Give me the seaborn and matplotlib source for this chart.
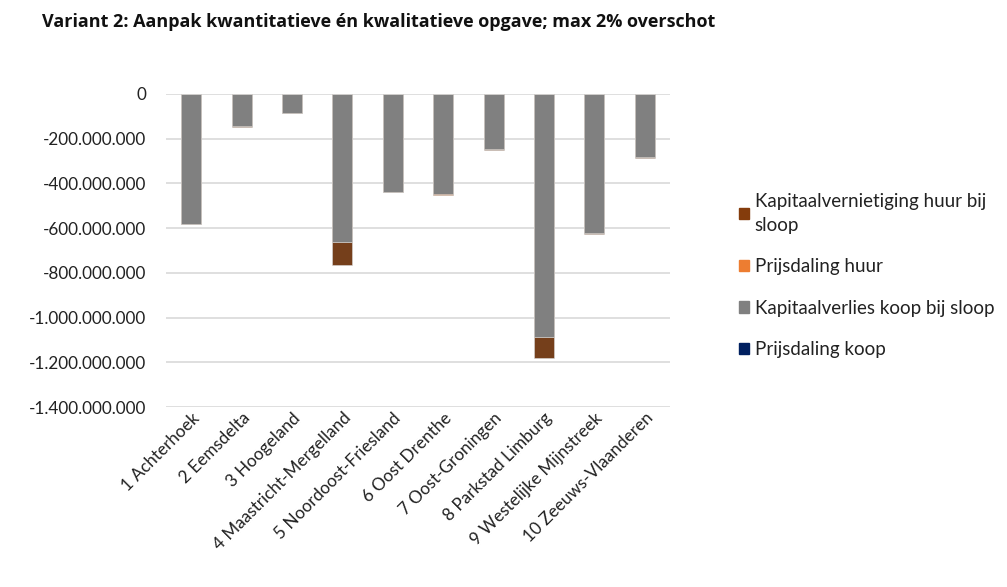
import numpy as np
import pandas as pd
import matplotlib
matplotlib.use("Agg")
import matplotlib.pyplot as plt
import matplotlib.patches as mpatches
from matplotlib.ticker import FuncFormatter
import seaborn as sns

# ── Data (euro, negative = loss) ─────────────────────────────────────────────
regions = [
    "1 Achterhoek", "2 Eemsdelta", "3 Hoogeland", "4 Maastricht-Mergelland",
    "5 Noordoost-Friesland", "6 Oost Drenthe", "7 Oost-Groningen",
    "8 Parkstad Limburg", "9 Westelijke Mijnstreek", "10 Zeeuws-Vlaanderen",
]
prijsdaling_koop = [0, 0, 0, 0, 0, 0, 0, 0, 0, 0]
kapitaalverlies_koop = [-580e6, -143e6, -83e6, -660e6, -437e6,
                        -449e6, -244e6, -1087e6, -622e6, -283e6]
prijsdaling_huur = [0, 0, 0, 0, -2e6, -2e6, -2e6, 0, 0, 0]
kapitaalvernietiging_huur = [-2e6, -3e6, -3e6, -107e6, -1e6,
                             -2e6, -3e6, -93e6, -2e6, -3e6]

series = ["Prijsdaling koop", "Kapitaalverlies koop bij sloop",
          "Prijsdaling huur", "Kapitaalvernietiging huur bij\nsloop"]
colors = ["#002060", "#808080", "#ED7D31", "#843C0C"]

df = pd.DataFrame({
    "regio": regions,
    series[0]: prijsdaling_koop,
    series[1]: kapitaalverlies_koop,
    series[2]: prijsdaling_huur,
    series[3]: kapitaalvernietiging_huur,
})
cum = df[series].cumsum(axis=1)

sns.set_theme(style="white")
plt.rcParams["font.family"] = ["Lato", "DejaVu Sans"]

fig = plt.figure(figsize=(10.07, 5.87), dpi=100)
ax = fig.add_axes([166 / 1007, 1 - 407 / 587, (670 - 166) / 1007, (407 - 94) / 587])

# stacked: draw the deepest cumulative first, shallower layers on top
for s, c in reversed(list(zip(series, colors))):
    sns.barplot(x=df["regio"], y=cum[s], color=c, width=0.4,
                edgecolor="#d9d9d9", linewidth=0.4, ax=ax, zorder=3)

ax.set_ylim(-1.4e9, 0)
ax.set_yticks(np.arange(-1.4e9, 1, 2e8))
ax.yaxis.set_major_formatter(FuncFormatter(
    lambda v, _: "0" if abs(v) < 1 else f"{v:,.0f}".replace(",", ".")))
ax.grid(axis="y", color="#d9d9d9", linewidth=1.2, zorder=0)
ax.set_axisbelow(True)
for sp in ax.spines.values():
    sp.set_visible(False)
ax.set_xlabel("")
ax.set_ylabel("")
ax.tick_params(axis="y", labelsize=12.3, colors="#222222", pad=14, length=0)
ax.tick_params(axis="x", labelsize=12.3, colors="#222222", pad=2, length=0)
plt.setp(ax.get_xticklabels(), rotation=45, ha="right", rotation_mode="anchor")

handles = [mpatches.Patch(color=c, label=s) for s, c in zip(series, colors)][::-1]
leg = fig.legend(handles=handles, loc="upper left",
                 bbox_to_anchor=(722 / 1007, 1 - 176 / 587),
                 frameon=False, fontsize=13.5, handlelength=0.55, handleheight=0.55,
                 handletextpad=0.3, labelspacing=1.3, labelcolor="#222222")
for t in leg.get_texts():
    t.set_linespacing(1.5)

fig.text(42 / 1007, 1 - 22 / 587,
         "Variant 2: Aanpak kwantitatieve én kwalitatieve opgave; max 2% overschot",
         fontsize=13, fontweight="bold", va="center", ha="left", color="#111111",
         family=["Open Sans", "DejaVu Sans"])

fig.savefig("out.png", dpi=100)
